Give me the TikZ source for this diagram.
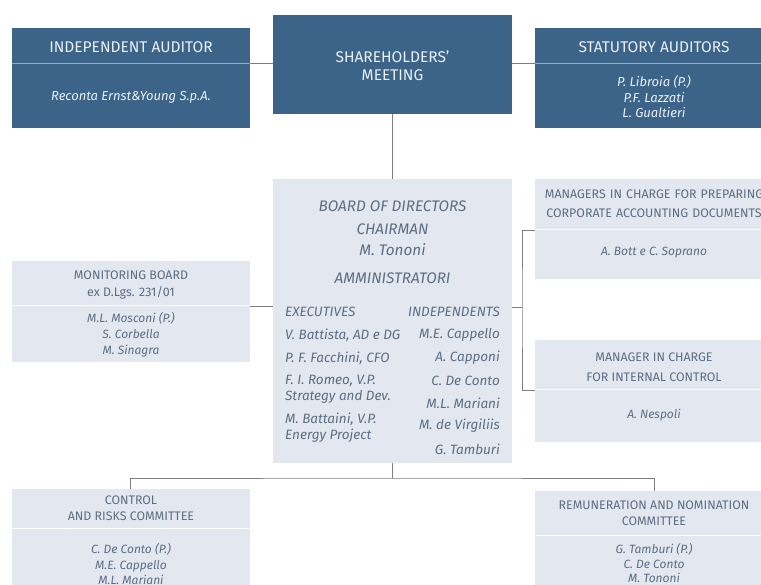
\documentclass[tikz,border=0pt]{standalone}
\usepackage{fontspec}
\setmainfont{Fira Sans}
\definecolor{dkblue}{HTML}{3C6489}
\definecolor{ltbox}{HTML}{E3E7EF}
\definecolor{ltxt}{HTML}{5C6E84}
\definecolor{dktxt}{HTML}{E9EFF5}
\definecolor{dksep}{HTML}{8DAECB}
\definecolor{connc}{HTML}{7E7E7E}
\tikzset{
  darkbox/.style={rectangle, fill=dkblue, draw=none, inner sep=0pt},
  lightbox/.style={rectangle, fill=ltbox, draw=none, inner sep=0pt},
  wd/.style={minimum width=238pt},
  dtitle/.style={text=dktxt, font=\fontsize{15.5}{18}\selectfont, align=center, inner sep=0pt},
  dname/.style={text=dktxt, font=\fontsize{13}{15.5}\selectfont\itshape, align=center, inner sep=0pt},
  ltitle/.style={text=ltxt, font=\fontsize{12.4}{17}\selectfont, align=center, inner sep=0pt},
  lname/.style={text=ltxt, font=\fontsize{12}{16}\selectfont\itshape, align=center, inner sep=0pt},
  btitle/.style={text=ltxt, font=\fontsize{15.3}{16}\selectfont\itshape, inner sep=0pt},
  bname/.style={text=ltxt, font=\fontsize{13.5}{16}\selectfont\itshape, inner sep=0pt, align=left},
  dsepline/.style={draw=dksep, line width=0.8pt},
  lsepline/.style={draw=white, line width=1pt},
  conn/.style={draw=connc, line width=0.8pt}
}
\begin{document}
\begin{tikzpicture}[x=1pt,y=-1pt]
\clip (0,0) rectangle (761,585);
\fill[white] (0,0) rectangle (761,585);
% boxes
\node[darkbox, wd, minimum height=100pt] (ia) at (131,78) {};
\node[darkbox, minimum width=239pt, minimum height=99pt] (sh) at (392.5,64.5) {};
\node[darkbox, wd, minimum height=100pt] (sa) at (654,78) {};
\node[lightbox, minimum width=239pt, minimum height=284pt] (bd) at (392.5,321) {};
\node[lightbox, wd, minimum height=101pt] (mb) at (131,311.5) {};
\node[lightbox, wd, minimum height=100pt] (mp) at (654,229) {};
\node[lightbox, wd, minimum height=102pt] (mi) at (654,391) {};
\node[lightbox, wd, minimum height=112pt] (cr) at (131,545) {};
\node[lightbox, wd, minimum height=110pt] (rn) at (654,546) {};
% separator coordinates
\coordinate (iaS) at (0,63);
\coordinate (saS) at (0,63);
\coordinate (mbS) at (0,306);
\coordinate (mpS) at (0,230);
\coordinate (miS) at (0,390);
\coordinate (crS) at (0,528);
\coordinate (rnS) at (0,535);
\draw[dsepline] (ia.west |- iaS) -- (ia.east |- iaS);
\draw[dsepline] (sa.west |- saS) -- (sa.east |- saS);
\draw[lsepline] (mb.west |- mbS) -- (mb.east |- mbS);
\draw[lsepline] (mp.west |- mpS) -- (mp.east |- mpS);
\draw[lsepline] (mi.west |- miS) -- (mi.east |- miS);
\draw[lsepline] (cr.west |- crS) -- (cr.east |- crS);
\draw[lsepline] (rn.west |- rnS) -- (rn.east |- rnS);
% connectors
\draw[conn] (ia.east |- iaS) -- (sh.west |- iaS);
\draw[conn] (sh.east |- saS) -- (sa.west |- saS);
\draw[conn] (sh.south) -- (bd.north);
\draw[conn] (mb.east |- mbS) -- (bd.west |- mbS);
\coordinate (br) at (522,307);
\draw[conn] (bd.east |- br) -- (br);
\draw[conn] (mp.west |- mpS) -| (br) |- (mi.west |- miS);
\coordinate (bj) at (392.5,478);
\coordinate (crT) at (130,0);
\draw[conn] (bd.south) -- (bj);
\draw[conn] (crT |- cr.north) |- (bj) -| (rn.north);
% texts: dark boxes
\node[dtitle] (iaT) at (131,47) {INDEPENDENT AUDITOR};
\node[dname] (iaN) at (131,97) {Reconta Ernst\&Young S.p.A.};
\node[dtitle] (shT) at (392.5,66) {SHAREHOLDERS'\\MEETING};
\node[dtitle] (saT) at (654,47) {STATUTORY AUDITORS};
\node[dname] (saN) at (654,97) {P. Libroia (P.)\\P.F. Lazzati\\L. Gualtieri};
% board
\node[btitle] (bdT1) at (392.5,206) {BOARD OF DIRECTORS};
\node[btitle] (bdT2) at (392.5,229) {CHAIRMAN};
\node[btitle] (bdT3) at (392.5,250) {M. Tononi};
\node[btitle] (bdT4) at (392.5,278) {AMMINISTRATORI};
\node[bname, anchor=west] (ex0) at (285,312) {EXECUTIVES};
\node[bname, anchor=west] (ex1) at (285,335) {V. Battista, AD e DG};
\node[bname, anchor=west] (ex2) at (285,358) {P. F. Facchini, CFO};
\node[bname, anchor=west] (ex3) at (285,389) {F. I. Romeo, V.P.\\Strategy and Dev.};
\node[bname, anchor=west] (ex4) at (285,428) {M. Battaini, V.P.\\Energy Project};
\node[bname, anchor=east] (in0) at (500,312) {INDEPENDENTS};
\node[bname, anchor=east] (in1) at (500,335) {M.E. Cappello};
\node[bname, anchor=east] (in2) at (500,358) {A. Capponi};
\node[bname, anchor=east] (in3) at (500,381) {C. De Conto};
\node[bname, anchor=east] (in4) at (500,403) {M.L. Mariani};
\node[bname, anchor=east] (in5) at (500,426) {M. de Virgiliis};
\node[bname, anchor=east] (in6) at (500,449) {G. Tamburi};
% light boxes
\node[ltitle] (mbT) at (131,284.5) {MONITORING BOARD\\ex D.Lgs. 231/01};
\node[lname] (mbN) at (131,335) {M.L. Mosconi (P.)\\S. Corbella\\M. Sinagra};
\node[ltitle, text width=260pt, font=\fontsize{12.4}{19}\selectfont] (mpT) at (654,203.5) {MANAGERS IN CHARGE FOR PREPARING\\CORPORATE ACCOUNTING DOCUMENTS};
\node[lname] (mpN) at (654,253) {A. Bott e C. Soprano};
\node[ltitle, font=\fontsize{12.4}{20}\selectfont] (miT) at (654,367) {MANAGER IN CHARGE\\FOR INTERNAL CONTROL};
\node[lname] (miN) at (654,415) {A. Nespoli};
\node[ltitle, font=\fontsize{12.4}{16}\selectfont] (crT2) at (131,508) {CONTROL\\AND RISKS COMMITTEE};
\node[lname, font=\fontsize{12}{15.5}\selectfont\itshape] (crN) at (131,564) {C. De Conto (P.)\\M.E. Cappello\\M.L. Mariani};
\node[ltitle, font=\fontsize{12.4}{16}\selectfont] (rnT) at (654,513) {REMUNERATION AND NOMINATION\\COMMITTEE};
\node[lname, font=\fontsize{12}{14.5}\selectfont\itshape] (rnN) at (654,563) {G. Tamburi (P.)\\C. De Conto\\M. Tononi};
\end{tikzpicture}
\end{document}
